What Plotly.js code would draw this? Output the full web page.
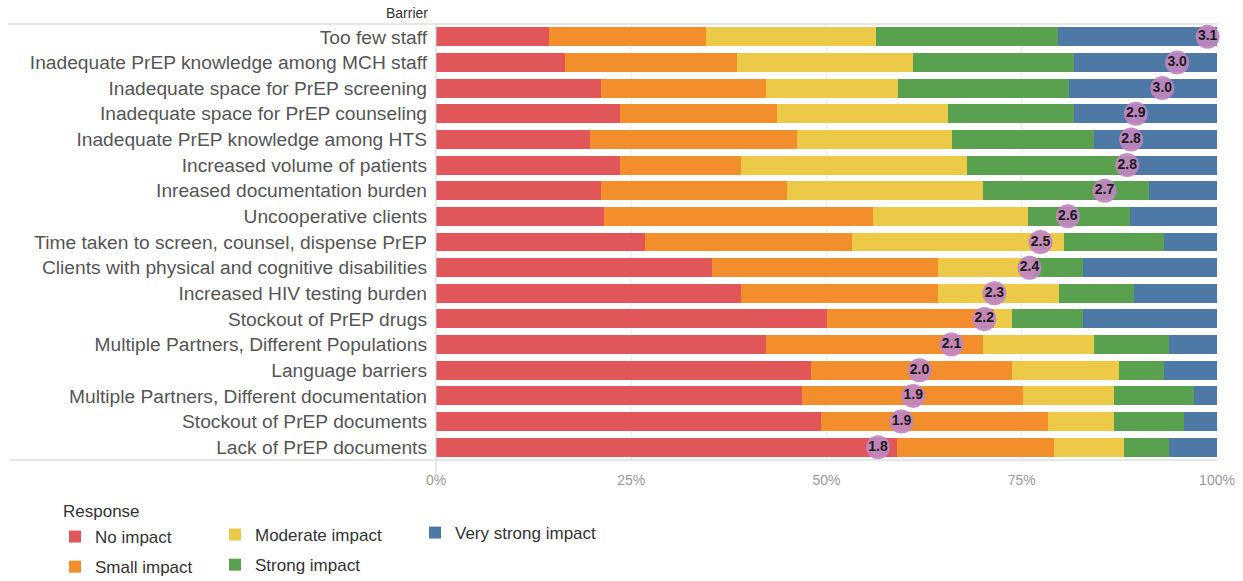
<!DOCTYPE html>
<html>
<head>
<meta charset="utf-8">
<script src="https://cdn.plot.ly/plotly-3.0.1.min.js"></script>
<style>html,body{margin:0;padding:0;background:#fff;}#chart{width:1243px;height:581px;}</style>
</head>
<body>
<div id="chart"></div>
<script>
const barriers = [
  "Too few staff",
  "Inadequate PrEP knowledge among MCH staff",
  "Inadequate space for PrEP screening",
  "Inadequate space for PrEP counseling",
  "Inadequate PrEP knowledge among HTS",
  "Increased volume of patients",
  "Inreased documentation burden",
  "Uncooperative clients",
  "Time taken to screen, counsel, dispense PrEP",
  "Clients with physical and cognitive disabilities",
  "Increased HIV testing burden",
  "Stockout of PrEP drugs",
  "Multiple Partners, Different Populations",
  "Language barriers",
  "Multiple Partners, Different documentation",
  "Stockout of PrEP documents",
  "Lack of PrEP documents"
];
const responses = ["No impact", "Small impact", "Moderate impact", "Strong impact", "Very strong impact"];
const noImpact       = [14.5, 16.5, 21.1, 23.6, 19.7, 23.6, 21.1, 21.5, 26.8, 35.3, 39.0, 50.0, 42.3, 48.0, 46.9, 49.3, 59.0];
const smallImpact    = [20.1, 22.0, 21.2, 20.0, 26.5, 15.4, 23.8, 34.4, 26.5, 29.0, 25.3, 21.4, 27.7, 25.8, 28.3, 29.1, 20.1];
const moderateImpact = [21.7, 22.6, 16.8, 21.9, 19.9, 29.0, 25.1, 19.9, 27.1, 12.2, 15.5,  2.4, 14.2, 13.7, 11.6,  8.4,  9.0];
const strongImpact   = [23.4, 20.6, 22.0, 16.2, 18.1, 21.5, 21.3, 13.0, 12.8,  6.4,  9.6,  9.1,  9.7,  5.7, 10.3,  9.0,  5.8];
const veryStrong     = [20.3, 18.3, 18.9, 18.3, 15.8, 10.5,  8.7, 11.2,  6.8, 17.1, 10.6, 17.1,  6.1,  6.8,  2.9,  4.2,  6.1];
const meanScores     = ["3.1","3.0","3.0","2.9","2.8","2.8","2.7","2.6","2.5","2.4","2.3","2.2","2.1","2.0","1.9","1.9","1.8"];
const meanPositions  = [98.8, 94.9, 93.0, 89.6, 89.0, 88.5, 85.6, 80.9, 77.4, 76.0, 71.5, 70.2, 66.0, 61.9, 61.1, 59.6, 56.6];
const xTickVals = [0, 25, 50, 75, 100];
const xTickText = ["0%", "25%", "50%", "75%", "100%"];

const colors = ["#e15759", "#f28e2b", "#edc948", "#59a14f", "#4e79a7"];
const series = [noImpact, smallImpact, moderateImpact, strongImpact, veryStrong];
const legendFor = ["legend", "legend", "legend2", "legend2", "legend3"];
const FONT = "Liberation Sans, Arial, sans-serif";

const traces = series.map((vals, i) => ({
  type: "bar",
  orientation: "h",
  name: responses[i],
  x: vals,
  y: barriers,
  marker: {color: colors[i], line: {width: 0}},
  legend: legendFor[i],
  legendgroup: "g" + i,
  hoverinfo: "name+x"
}));

traces.push({
  type: "scatter",
  mode: "markers+text",
  x: meanPositions,
  y: barriers,
  text: meanScores,
  textposition: "middle center",
  textfont: {family: FONT, size: 14, color: "#1b1b1b", weight: "bold"},
  marker: {size: 24, color: "rgba(192,134,192,0.92)", line: {width: 0}},
  showlegend: false,
  cliponaxis: false,
  hoverinfo: "text"
});

const L = 436, R = 1217, T = 24, B = 460;
const W = R - L, H = B - T;
const px = v => (v - L) / W;
const py = v => (B - v) / H;

const legendCommon = {
  orientation: "v",
  bgcolor: "rgba(0,0,0,0)",
  font: {family: FONT, size: 17, color: "#333"},
  tracegroupgap: 5,
  xanchor: "left",
  yanchor: "top",
  itemclick: false,
  itemdoubleclick: false
};

const layout = {
  width: 1243,
  height: 581,
  margin: {l: L, r: 1243 - R, t: T, b: 581 - B, pad: 0, autoexpand: false},
  paper_bgcolor: "#ffffff",
  plot_bgcolor: "#ffffff",
  barmode: "stack",
  bargap: 0.26,
  font: {family: FONT},
  xaxis: {
    range: [0, 100],
    tickmode: "array",
    tickvals: xTickVals,
    ticktext: xTickText,
    showgrid: true,
    gridcolor: "#efefef",
    zeroline: false,
    showline: false,
    ticks: "",
    ticklabelstandoff: 10,
    tickfont: {family: FONT, size: 14, color: "#999"},
    fixedrange: true
  },
  yaxis: {
    type: "category",
    range: [barriers.length - 0.5, -0.5],
    tickmode: "array",
    tickvals: barriers,
    ticktext: barriers,
    showgrid: false,
    zeroline: false,
    showline: false,
    ticks: "",
    ticklabelstandoff: 8,
    tickfont: {family: FONT, size: 19.2, color: "#555"},
    fixedrange: true
  },
  showlegend: true,
  legend: Object.assign({}, legendCommon, {x: px(55), y: py(519)}),
  legend2: Object.assign({}, legendCommon, {x: px(215), y: py(517)}),
  legend3: Object.assign({}, legendCommon, {x: px(415), y: py(515)}),
  shapes: [
    {type: "line", xref: "paper", yref: "paper", x0: px(8), x1: px(R), y0: py(T), y1: py(T), line: {color: "#cfcfcf", width: 1}},
    {type: "line", xref: "paper", yref: "paper", x0: px(10), x1: px(R), y0: py(B), y1: py(B), line: {color: "#cfcfcf", width: 1}},
    {type: "line", xref: "paper", yref: "paper", x0: 0, x1: 0, y0: py(T), y1: py(476), line: {color: "#cfcfcf", width: 1}}
  ],
  annotations: [
    {text: "Barrier", xref: "paper", yref: "paper", x: px(430), y: py(13), xanchor: "right", yanchor: "middle", showarrow: false, font: {family: FONT, size: 14, color: "#333"}},
    {text: "Response", xref: "paper", yref: "paper", x: px(61), y: py(511), xanchor: "left", yanchor: "middle", showarrow: false, font: {family: FONT, size: 17, color: "#333"}}
  ]
};

Plotly.newPlot("chart", traces, layout, {displayModeBar: false, staticPlot: true});
</script>
</body>
</html>
